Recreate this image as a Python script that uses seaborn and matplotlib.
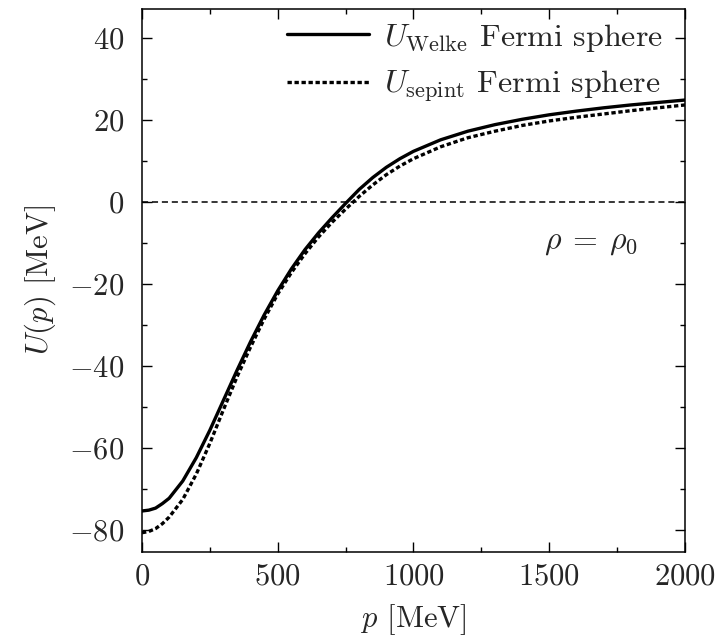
import matplotlib
matplotlib.use("Agg")
import matplotlib.pyplot as plt
import seaborn as sns
import pandas as pd
from matplotlib.ticker import MultipleLocator

p_vals = [0, 25, 50, 75, 100, 150, 200, 250, 300, 350, 400, 450, 500, 550, 600,
          650, 700, 750, 800, 850, 900, 950, 1000, 1100, 1200, 1300, 1400, 1500,
          1600, 1700, 1800, 1900, 2000]
u_welke = [-75.3, -75.1, -74.6, -73.5, -72.2, -68.0, -62.3, -55.6, -48.3, -41.0,
           -34.0, -27.5, -21.6, -16.3, -11.6, -7.5, -3.8, -0.3, 3.1, 6.0, 8.5,
           10.6, 12.4, 15.2, 17.3, 18.9, 20.2, 21.3, 22.2, 23.0, 23.7, 24.3, 24.9]
u_sepint = [-80.6, -80.3, -79.6, -78.4, -76.8, -72.5, -66.3, -58.8, -50.6, -42.6,
            -35.3, -28.5, -22.4, -17.2, -12.6, -8.5, -4.9, -1.7, 1.4, 4.2, 6.7,
            8.8, 10.6, 13.5, 15.7, 17.3, 18.7, 19.8, 20.7, 21.5, 22.3, 23.0, 23.7]
labels = [r"$U_{\rm Welke}$ Fermi sphere", r"$U_{\rm sepint}$ Fermi sphere"]

sns.set_theme(style="ticks")
plt.rcParams.update({
    "font.family": "serif",
    "font.serif": ["cmr10"],
    "mathtext.fontset": "cm",
    "axes.formatter.use_mathtext": True,
    "axes.unicode_minus": True,
    "font.size": 22,
    "axes.linewidth": 1.1,
    "xtick.direction": "in",
    "ytick.direction": "in",
})

df_w = pd.DataFrame({"p": p_vals, "U": u_welke})
df_s = pd.DataFrame({"p": p_vals, "U": u_sepint})

fig = plt.figure(figsize=(7.19, 6.42), dpi=100)
ax = fig.add_axes([0.1975, 0.1402, 0.7552, 0.8458])

ax.axhline(0, color="black", lw=1.1, ls=(0, (4, 2.5)), zorder=1)
sns.lineplot(data=df_w, x="p", y="U", ax=ax, color="black", lw=2.4,
             label=labels[0], zorder=3)
sns.lineplot(data=df_s, x="p", y="U", ax=ax, color="black", lw=2.4,
             ls=(0, (1.3, 0.8)), label=labels[1], zorder=3)

ax.set_xlim(0, 2000)
ax.set_ylim(-85.3, 47.1)
ax.xaxis.set_major_locator(MultipleLocator(500))
ax.xaxis.set_minor_locator(MultipleLocator(250))
ax.yaxis.set_major_locator(MultipleLocator(20))
ax.yaxis.set_minor_locator(MultipleLocator(10))
ax.tick_params(which="both", top=True, right=True, direction="in",
               labelsize=22, width=1.0, color="black")
ax.tick_params(which="major", length=7)
ax.tick_params(which="minor", length=3.5)
ax.tick_params(axis="x", which="major", pad=8)
ax.tick_params(axis="y", which="major", pad=13)

ax.set_xlabel(r"$p$ [MeV]", fontsize=22, labelpad=8)
ax.set_ylabel(r"$U(p)$ [MeV]", fontsize=22, labelpad=8)

ax.text(1655, -10, r"$\rho\:=\:\rho_0$", fontsize=23, ha="center", va="center")

leg = ax.legend(loc="upper right", bbox_to_anchor=(0.982, 1.0), frameon=False,
                fontsize=23, handlelength=2.57, handletextpad=0.45,
                labelspacing=0.48, borderaxespad=0.2, borderpad=0.2)

for sp in ax.spines.values():
    sp.set_color("black")

fig.savefig("out.png", dpi=100)
